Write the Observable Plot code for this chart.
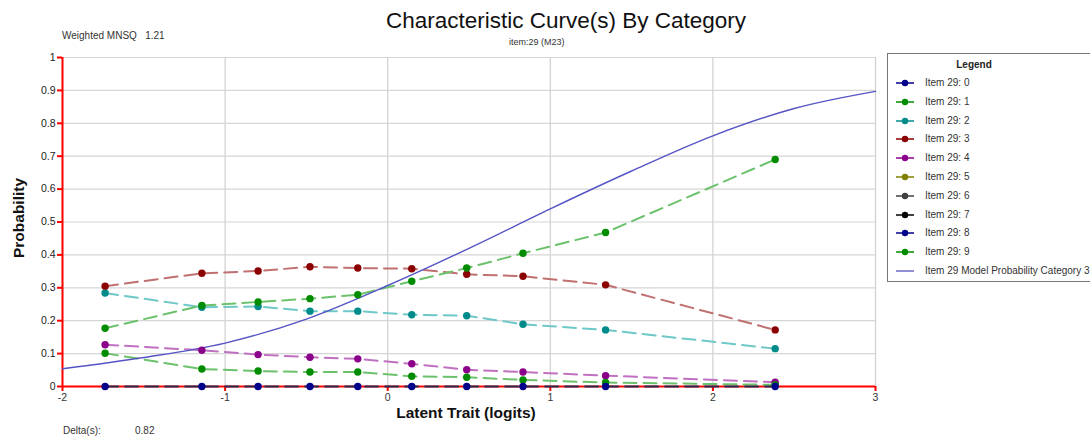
<!DOCTYPE html>
<html>
<head>
<meta charset="utf-8">
<script src="https://cdn.jsdelivr.net/npm/d3@7"></script>
<script src="https://cdn.jsdelivr.net/npm/@observablehq/plot@0.6"></script>
<style>
  html, body { margin: 0; padding: 0; background: #fff; }
  #wrap { position: relative; width: 1090px; height: 436px; font-family: "Liberation Sans", Arial, sans-serif; color: #222; overflow: hidden; }
  #chart { position: absolute; left: 0; top: 0; }
  .t { position: absolute; white-space: nowrap; }
  #legend { position: absolute; left: 887px; top: 53px; width: 240px; height: 229px; border: 1.5px solid #777; border-right: none; background: #fff; box-sizing: border-box; }
  #legend .title { position: absolute; left: 0; width: 172px; top: 5px; text-align: center; font-weight: bold; font-size: 10px; }
  #legend .row { position: absolute; left: 6px; height: 14px; font-size: 10px; color: #333; }
  #legend .row svg { position: absolute; left: 0; top: 0; }
  #legend .row span { position: absolute; left: 31px; top: 1px; white-space: nowrap; }
</style>
</head>
<body>
<div id="wrap">
  <div id="chart"></div>
  <div class="t" style="left:386px; top:8px; font-size:22.5px; color:#111;">Characteristic Curve(s) By Category</div>
  <div class="t" style="left:509px; top:37px; font-size:9px; color:#333;">item:29 (M23)</div>
  <div class="t" style="left:62px; top:30px; font-size:10px; color:#333;">Weighted MNSQ&nbsp;&nbsp;&nbsp;1.21</div>
  <div class="t" style="left:63px; top:425px; font-size:10px; color:#333;">Delta(s):</div>
  <div class="t" style="left:135px; top:425px; font-size:10px; color:#333;">0.82</div>
  <div id="legend"></div>
</div>
<script>
// ---- data ----
const xLogits = [-1.738, -1.143, -0.797, -0.478, -0.184, 0.148, 0.486, 0.832, 1.34, 2.383];
const cat0 = [0, 0, 0, 0, 0, 0, 0, 0, 0, 0];
const cat1 = [0.101, 0.053, 0.047, 0.044, 0.044, 0.031, 0.028, 0.020, 0.012, 0.005];
const cat2 = [0.284, 0.241, 0.243, 0.229, 0.229, 0.218, 0.215, 0.189, 0.172, 0.115];
const cat3 = [0.305, 0.344, 0.351, 0.364, 0.360, 0.358, 0.341, 0.335, 0.309, 0.172];
const cat4 = [0.127, 0.110, 0.097, 0.089, 0.084, 0.069, 0.051, 0.044, 0.033, 0.013];
const cat9 = [0.177, 0.246, 0.257, 0.267, 0.279, 0.320, 0.360, 0.405, 0.468, 0.690];
const modelX = [-2, -1.5, -1, -0.5, 0, 0.5, 1, 1.5, 2, 2.5, 3];
const modelY = [0.054, 0.088, 0.132, 0.205, 0.307, 0.420, 0.540, 0.655, 0.762, 0.845, 0.897];
const xTicks = [-2, -1, 0, 1, 2, 3];
const yTicks = [0, 0.1, 0.2, 0.3, 0.4, 0.5, 0.6, 0.7, 0.8, 0.9, 1];
const legendLabels = ["Item 29: 0", "Item 29: 1", "Item 29: 2", "Item 29: 3", "Item 29: 4",
  "Item 29: 5", "Item 29: 6", "Item 29: 7", "Item 29: 8", "Item 29: 9"];
const modelLabel = "Item 29 Model Probability Category 3";

// styles
const dotColors = ["#00008b", "#008c00", "#008b8b", "#8b0000", "#8b008b", "#808000", "#404040", "#000000", "#00008b", "#008c00"];
const lineColors = ["#2a2a50", "#6cc26c", "#6ec8c8", "#c07070", "#c070c0", "#b0b060", "#707070", "#303030", "#2a2a50", "#6cc26c"];

const series = [
  {cat: 4, vals: cat4},
  {cat: 1, vals: cat1},
  {cat: 2, vals: cat2},
  {cat: 3, vals: cat3},
  {cat: 9, vals: cat9},
  {cat: 0, vals: cat0}
];
const rows = series.flatMap(s => s.vals.map((v, i) => ({x: xLogits[i], y: v, cat: s.cat})));
const model = modelX.map((x, i) => ({x, y: modelY[i]}));

const marks = [
  Plot.gridX(xTicks, {stroke: "#cfcfcf", strokeOpacity: 1, strokeWidth: 1.2}),
  Plot.gridY(yTicks, {stroke: "#d6d6d6", strokeOpacity: 1, strokeWidth: 1.2}),
  Plot.ruleY([0], {stroke: "red", strokeWidth: 2}),
  Plot.ruleX([-2], {stroke: "red", strokeWidth: 2}),
  Plot.axisY({ticks: yTicks, tickSize: 5, stroke: "red", strokeWidth: 2, tickPadding: 2, fill: "#222", fontSize: 10.5, label: null, tickFormat: d => String(d)}),
  Plot.axisX({ticks: xTicks, tickSize: 5, stroke: "red", strokeWidth: 2, tickPadding: 2, fill: "#333", fontSize: 10.5, label: null, tickFormat: d => String(d)})
];
for (const s of series) {
  const d = rows.filter(r => r.cat === s.cat);
  marks.push(Plot.line(d, {x: "x", y: "y", stroke: lineColors[s.cat], strokeWidth: 2, strokeDasharray: "13,7"}));
}
marks.push(Plot.line(model, {x: "x", y: "y", stroke: "#5454c4", strokeWidth: 1.4, curve: "monotone-x"}));
for (const s of series) {
  const d = rows.filter(r => r.cat === s.cat);
  marks.push(Plot.dot(d, {x: "x", y: "y", fill: dotColors[s.cat], r: 3.7}));
}

const chart = Plot.plot({
  width: 1090,
  height: 436,
  marginLeft: 62,
  marginRight: 215,
  marginTop: 57,
  marginBottom: 50,
  style: {fontFamily: "'Liberation Sans', Arial, sans-serif", background: "transparent"},
  x: {domain: [-2, 3]},
  y: {domain: [0, 1]},
  marks
});
document.getElementById("chart").appendChild(chart);

// axis titles as SVG text
const svg = d3.select(chart);
svg.append("text").attr("x", 466).attr("y", 418).attr("text-anchor", "middle")
  .attr("font-size", 15.5).attr("font-weight", "bold").attr("fill", "#111").text("Latent Trait (logits)");
svg.append("text").attr("transform", "translate(24,218) rotate(-90)").attr("text-anchor", "middle")
  .attr("font-size", 15.5).attr("font-weight", "bold").attr("fill", "#111").text("Probability");

// legend
const leg = document.getElementById("legend");
const t = document.createElement("div"); t.className = "title"; t.textContent = "Legend"; leg.appendChild(t);
legendLabels.forEach((lab, i) => {
  const r = document.createElement("div"); r.className = "row"; r.style.top = (22 + i * 18.8) + "px";
  r.innerHTML = `<svg width="24" height="14"><line x1="2" x2="20" y1="7" y2="7" stroke="${dotColors[i]}" stroke-width="1.5"/><circle cx="11" cy="7" r="3.2" fill="${dotColors[i]}"/></svg><span>${lab}</span>`;
  leg.appendChild(r);
});
const rm = document.createElement("div"); rm.className = "row"; rm.style.top = (22 + 10 * 18.8) + "px";
rm.innerHTML = `<svg width="24" height="14"><line x1="2" x2="20" y1="7" y2="7" stroke="#5454c4" stroke-width="1.3"/></svg><span>${modelLabel}</span>`;
leg.appendChild(rm);
</script>
</body>
</html>
